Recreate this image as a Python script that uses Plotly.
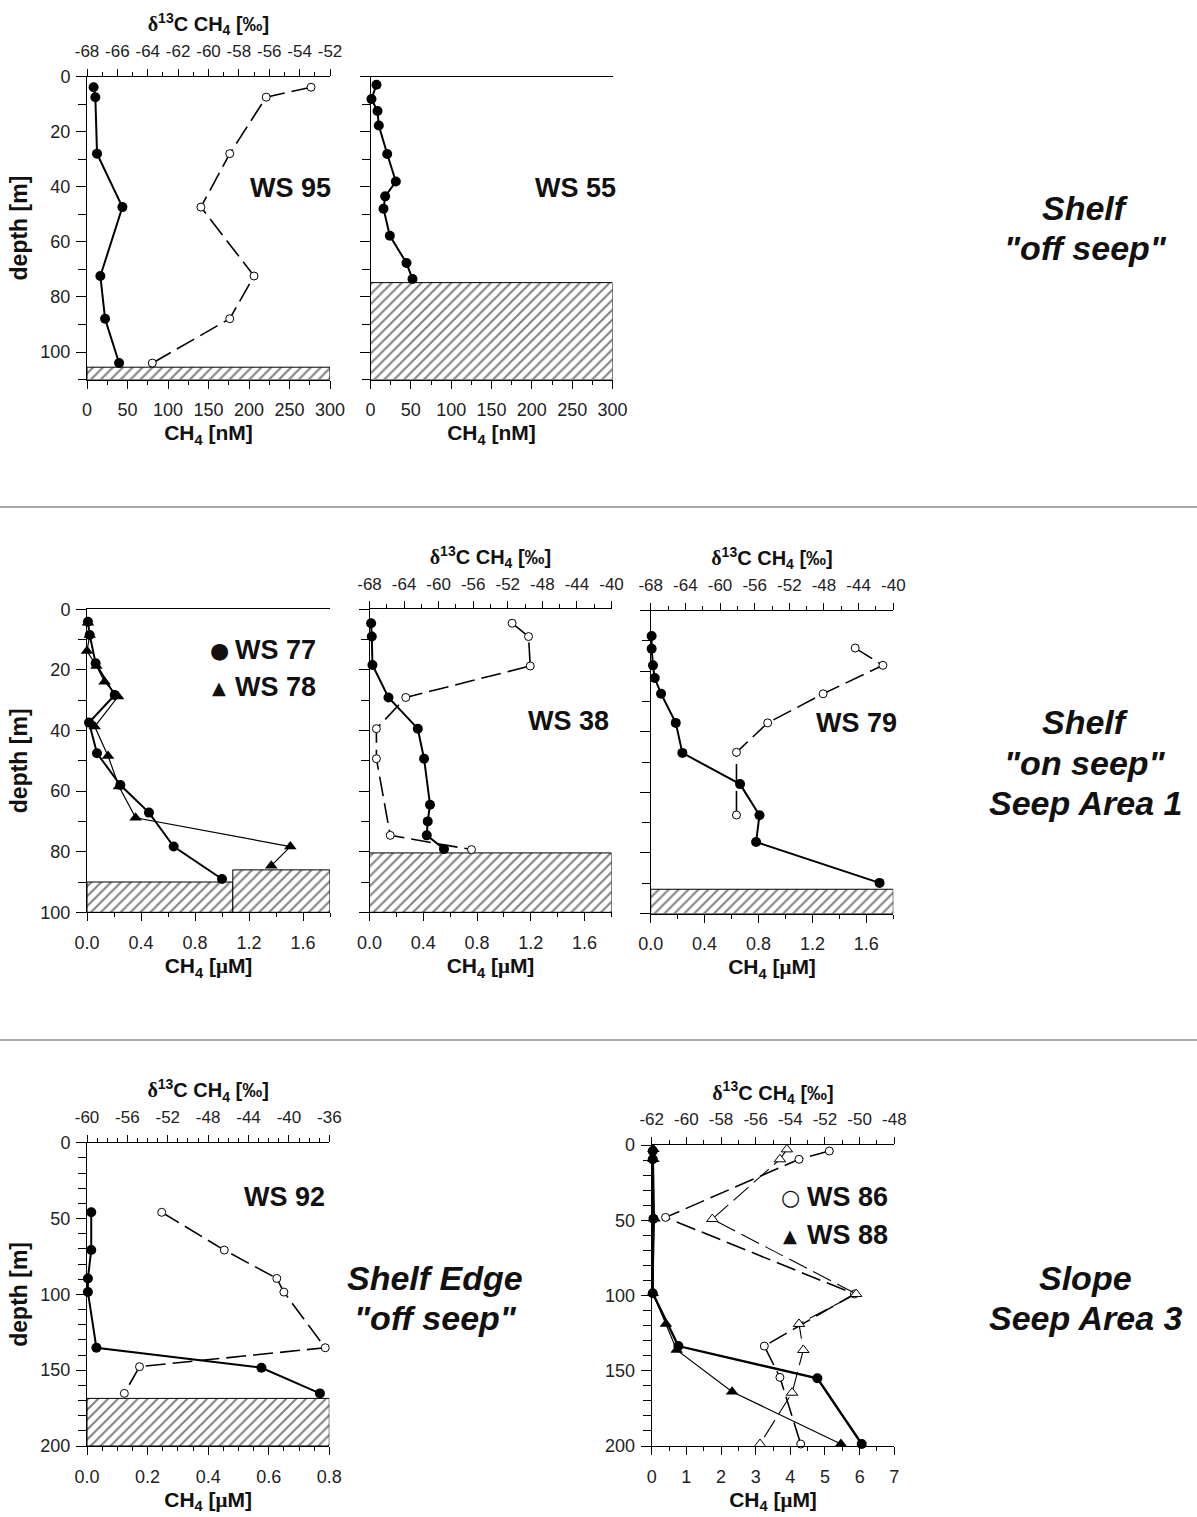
import plotly.graph_objects as go

W, H = 1197, 1517

# ---------------- data ----------------
# Shelf "off seep"
ws95_depth = [3.9, 7.5, 28.0, 47.4, 72.4, 87.9, 104.0]
ws95_ch4_nM = [8.2, 10.3, 12.4, 43.7, 16.5, 22.3, 39.6]
ws95_d13c = [-53.25, -56.2, -58.6, -60.5, -57.0, -58.6, -63.7]
ws95_seafloor = 105.5

ws55_depth = [3.0, 8.2, 12.5, 17.8, 28.1, 38.1, 43.5, 48.0, 57.8, 67.7, 73.5]
ws55_ch4_nM = [7.4, 1.2, 8.7, 10.3, 20.7, 31.4, 18.2, 16.1, 24.0, 44.6, 52.1]
ws55_seafloor = 74.8

# Shelf "on seep", Seep Area 1
ws77_depth = [4.1, 8.5, 17.8, 28.3, 37.4, 47.5, 58.0, 67.1, 78.3, 89.0]
ws77_ch4_uM = [0.007, 0.02, 0.064, 0.205, 0.015, 0.074, 0.247, 0.459, 0.642, 1.0]
ws77_seafloor = 90.0
ws78_depth = [4.4, 8.5, 13.8, 18.7, 23.9, 28.8, 38.7, 48.4, 58.5, 68.8, 78.3, 84.6]
ws78_ch4_uM = [0.007, 0.02, 0.0, 0.07, 0.13, 0.23, 0.057, 0.156, 0.237, 0.36, 1.506, 1.365]
ws78_seafloor = 86.0
ws77_78_sediment_split_uM = 1.08

ws38_depth = [4.6, 9.0, 18.4, 29.1, 39.4, 49.3, 64.5, 70.0, 74.6, 79.1]
ws38_ch4_uM = [0.012, 0.017, 0.022, 0.141, 0.359, 0.406, 0.45, 0.433, 0.426, 0.554]
ws38_d13c_depth = [4.6, 9.0, 18.7, 29.1, 39.4, 49.3, 74.6, 79.3]
ws38_d13c = [-51.5, -49.6, -49.4, -63.8, -67.2, -67.2, -65.6, -56.2]
ws38_seafloor = 80.4

ws79_depth = [8.4, 12.6, 18.1, 22.3, 27.5, 37.1, 47.0, 57.3, 67.6, 76.4, 89.9]
ws79_ch4_uM = [0.007, 0.007, 0.017, 0.03, 0.077, 0.186, 0.235, 0.663, 0.807, 0.782, 1.698]
ws79_d13c_depth = [12.4, 18.1, 27.5, 37.1, 46.8, 67.5]
ws79_d13c = [-44.4, -41.2, -48.1, -54.5, -58.1, -58.1]
ws79_seafloor = 92.0

# Shelf Edge "off seep"
ws92_depth = [45.9, 70.8, 89.5, 98.5, 135.2, 148.4, 165.3]
ws92_ch4_uM = [0.014, 0.014, 0.003, 0.003, 0.031, 0.576, 0.769]
ws92_d13c_depth = [45.9, 70.8, 89.5, 98.5, 135.2, 147.7, 165.3]
ws92_d13c = [-52.6, -46.4, -41.2, -40.5, -36.4, -54.8, -56.3]
ws92_seafloor = 168.6

# Slope, Seep Area 3
ws86_depth = [4.0, 9.5, 49.0, 98.5, 133.6, 155.0, 198.7]
ws86_ch4_uM = [0.03, 0.03, 0.05, 0.03, 0.77, 4.78, 6.06]
ws86_d13c_depth = [4.0, 9.5, 48.1, 99.0, 133.6, 154.4, 198.7]
ws86_d13c = [-51.75, -53.5, -61.2, -50.3, -55.5, -54.6, -53.4]
ws88_depth = [2.9, 9.5, 49.0, 98.5, 118.9, 136.2, 163.9, 198.7]
ws88_ch4_uM = [0.05, 0.05, 0.08, 0.03, 0.41, 0.72, 2.32, 5.46]
ws88_d13c_depth = [2.9, 9.5, 49.2, 99.0, 118.9, 136.2, 164.6, 198.7]
ws88_d13c = [-54.2, -54.6, -58.5, -50.2, -53.5, -53.25, -53.9, -55.75]

# top (delta 13C) axis tick values; labels use a plain hyphen as in the original
d13c_ticks_ws95 = [-68, -66, -64, -62, -60, -58, -56, -54, -52]
d13c_ticks_seep1 = [-68, -64, -60, -56, -52, -48, -44, -40]
d13c_ticks_ws92 = [-60, -56, -52, -48, -44, -40, -36]
d13c_ticks_slope = [-62, -60, -58, -56, -54, -52, -50, -48]

# ---------------- styling / layout ----------------
FONT = "Liberation Sans"
SERIF = "Liberation Serif"
TXT = "#111111"


def fx(px):
    return px / W


def fy(py):
    return 1 - py / H


D13C_TITLE = ("<span style=\"font-family:'%s'\">δ</span><sup>13</sup>C CH<sub>4</sub> [‰]" % SERIF)
UM_TITLE = ("CH<sub>4</sub> [<span style=\"font-family:'%s'\">μ</span>M]" % SERIF)
NM_TITLE = "CH<sub>4</sub> [nM]"

panels = [
    dict(box=(87, 330, 76.5, 379.6), xr=[0, 300], xd=50, xm=25, xf="d", yr=[110, 0], yd=20, ym=10,
         ylab=True, top=dict(r=[-68, -52], t=d13c_ticks_ws95, m=1), xt=NM_TITLE),
    dict(box=(370.5, 612.5, 76.5, 379.6), xr=[0, 300], xd=50, xm=25, xf="d", yr=[110, 0], yd=20, ym=10,
         ylab=False, top=None, xt=NM_TITLE),
    dict(box=(87, 330, 609.3, 912.3), xr=[0, 1.8], xd=0.4, xm=0.2, xf=".1f", yr=[100, 0], yd=20, ym=10,
         ylab=True, top=None, xt=UM_TITLE),
    dict(box=(369.5, 611.5, 609.3, 912.3), xr=[0, 1.8], xd=0.4, xm=0.2, xf=".1f", yr=[100, 0], yd=20, ym=10,
         ylab=False, top=dict(r=[-68, -40], t=d13c_ticks_seep1, m=2), xt=UM_TITLE),
    dict(box=(650.7, 893.3, 610.5, 913.5), xr=[0, 1.8], xd=0.4, xm=0.2, xf=".1f", yr=[100, 0], yd=20, ym=10,
         ylab=False, top=dict(r=[-68, -40], t=d13c_ticks_seep1, m=2), xt=UM_TITLE),
    dict(box=(87, 329.3, 1142.7, 1446), xr=[0, 0.8], xd=0.2, xm=0.05, xf=".1f", yr=[200, 0], yd=50, ym=10,
         ylab=True, top=dict(r=[-60, -36], t=d13c_ticks_ws92, m=1), xt=UM_TITLE),
    dict(box=(651.7, 894.3, 1145, 1446), xr=[0, 7], xd=1, xm=0.5, xf="d", yr=[200, 0], yd=50, ym=10,
         ylab=True, top=dict(r=[-62, -48], t=d13c_ticks_slope, m=1), xt=UM_TITLE),
]

layout = dict(width=W, height=H, margin=dict(l=0, r=0, t=0, b=0, autoexpand=False), paper_bgcolor="white",
              plot_bgcolor="rgba(0,0,0,0)", showlegend=False, font=dict(family=FONT, color=TXT))

TICKFONT = dict(family=FONT, size=18, color="#222")
top_ids = {}
next_top = 8
for i, p in enumerate(panels, start=1):
    x0, x1, y0, y1 = p["box"]
    xk = "xaxis" if i == 1 else "xaxis%d" % i
    yk = "yaxis" if i == 1 else "yaxis%d" % i
    layout[xk] = dict(
        domain=[fx(x0), fx(x1)], anchor="y" if i == 1 else "y%d" % i, range=p["xr"],
        dtick=p["xd"], tick0=0, tickformat=p["xf"], showline=True, linecolor="black", linewidth=1,
        mirror=(p["top"] is None), ticks="outside", ticklen=8, tickwidth=1, tickcolor="black",
        minor=dict(dtick=p["xm"], tick0=0, ticks="outside", ticklen=4, tickcolor="black", tickwidth=1),
        ticklabelstandoff=6, showgrid=False, zeroline=False, automargin=False,
        tickfont=TICKFONT,
        title=dict(text=p["xt"], standoff=6, font=dict(family=FONT, size=21, weight="bold", color=TXT)),
        fixedrange=True,
    )
    layout[yk] = dict(
        domain=[fy(y1), fy(y0)], anchor="x" if i == 1 else "x%d" % i, range=p["yr"],
        dtick=p["yd"], tick0=0, showline=True, linecolor="black", linewidth=1,
        ticks="outside", ticklen=10, tickwidth=1, tickcolor="black",
        minor=dict(dtick=p["ym"], tick0=0, ticks="outside", ticklen=8, tickcolor="black", tickwidth=1),
        showticklabels=p["ylab"], ticklabelstandoff=2, showgrid=False, zeroline=False, automargin=False,
        tickfont=TICKFONT, fixedrange=True,
    )
    if i in (1, 3, 6):
        layout[yk]["title"] = dict(text="depth [m]", standoff=6,
                                   font=dict(family=FONT, size=23, weight="bold", color=TXT))
    if p["top"] is not None:
        t = p["top"]
        k = next_top
        next_top += 1
        top_ids[i] = k
        layout["xaxis%d" % k] = dict(
            overlaying="x" if i == 1 else "x%d" % i, anchor="y" if i == 1 else "y%d" % i, side="top",
            range=t["r"], tickmode="array", tickvals=t["t"], ticktext=[str(v) for v in t["t"]],
            showline=True, linecolor="black", linewidth=1,
            ticks="outside", ticklen=7, tickwidth=1, tickcolor="black",
            minor=dict(dtick=t["m"], tick0=t["r"][0], ticks="outside", ticklen=4, tickcolor="black", tickwidth=1),
            ticklabelstandoff=5, showgrid=False, zeroline=False, automargin=False,
            tickfont=dict(family=FONT, size=17, color="#222"),
            title=dict(text=D13C_TITLE, standoff=4, font=dict(family=FONT, size=20, weight="bold", color=TXT)),
            fixedrange=True,
        )


def ax(i):
    return ("x" if i == 1 else "x%d" % i), ("y" if i == 1 else "y%d" % i)


def topax(i):
    return "x%d" % top_ids[i], ("y" if i == 1 else "y%d" % i)


traces = []
DASH = "20px,7px"


def sediment(i, xa, xb, top):
    xk, yk = ax(i)
    bottom = panels[i - 1]["yr"][0]
    traces.append(go.Scatter(
        x=[xa, xb, xb, xa, xa], y=[top, top, bottom, bottom, top], mode="lines", fill="toself",
        fillcolor="white", fillpattern=dict(shape="/", fgcolor="black", bgcolor="white", size=7, solidity=0.28),
        line=dict(color="black", width=1), xaxis=xk, yaxis=yk, hoverinfo="skip"))


def ch4_line(i, x, y, sym="circle", size=10, width=2.0):
    xk, yk = ax(i)
    traces.append(go.Scatter(
        x=x, y=y, mode="lines+markers", line=dict(color="black", width=width),
        marker=dict(symbol=sym, size=size, color="black"), xaxis=xk, yaxis=yk, cliponaxis=False))


def iso_line(i, x, y, sym="circle", size=8, width=1.6):
    xk, yk = topax(i)
    traces.append(go.Scatter(
        x=x, y=y, mode="lines+markers", line=dict(color="black", width=width, dash=DASH),
        marker=dict(symbol=sym, size=size, color="white", line=dict(color="black", width=1)),
        xaxis=xk, yaxis=yk, cliponaxis=False))


# Panel 1: WS 95
sediment(1, 0, 300, ws95_seafloor)
iso_line(1, ws95_d13c, ws95_depth)
ch4_line(1, ws95_ch4_nM, ws95_depth)
# Panel 2: WS 55
sediment(2, 0, 300, ws55_seafloor)
ch4_line(2, ws55_ch4_nM, ws55_depth)
# Panel 3: WS 77 / WS 78
sediment(3, 0, ws77_78_sediment_split_uM, ws77_seafloor)
sediment(3, ws77_78_sediment_split_uM, 1.8, ws78_seafloor)
ch4_line(3, ws78_ch4_uM, ws78_depth, sym="triangle-up", size=11, width=1.2)
ch4_line(3, ws77_ch4_uM, ws77_depth, width=2.0)
# Panel 4: WS 38
sediment(4, 0, 1.8, ws38_seafloor)
ch4_line(4, ws38_ch4_uM, ws38_depth)
iso_line(4, ws38_d13c, ws38_d13c_depth)
# Panel 5: WS 79
sediment(5, 0, 1.8, ws79_seafloor)
ch4_line(5, ws79_ch4_uM, ws79_depth)
iso_line(5, ws79_d13c, ws79_d13c_depth)
# Panel 6: WS 92
sediment(6, 0, 0.8, ws92_seafloor)
ch4_line(6, ws92_ch4_uM, ws92_depth)
iso_line(6, ws92_d13c, ws92_d13c_depth)
# Panel 7: WS 86 / WS 88
iso_line(7, ws86_d13c, ws86_d13c_depth, width=1.6)
iso_line(7, ws88_d13c, ws88_d13c_depth, sym="triangle-up", size=10, width=1.1)
ch4_line(7, ws88_ch4_uM, ws88_depth, sym="triangle-up", size=11, width=1.2)
ch4_line(7, ws86_ch4_uM, ws86_depth, width=2.4)

fig = go.Figure(data=traces, layout=layout)

# separators between the three rows
for py in (507, 1040):
    fig.add_shape(type="line", xref="paper", yref="paper", x0=0, x1=1, y0=fy(py), y1=fy(py),
                  line=dict(color="#555555", width=1.2))


def label(text, px, py, size, italic=False, xanchor="center", family=FONT):
    fig.add_annotation(text=text, x=fx(px), y=fy(py), xref="paper", yref="paper", showarrow=False,
                       xanchor=xanchor, yanchor="middle", borderpad=0,
                       font=dict(family=family, size=size, weight="bold", style="italic" if italic else "normal",
                                 color=TXT))


# station labels
label("WS 95", 290, 188, 27)
label("WS 55", 575, 188, 27)
label("WS 38", 568, 721, 27)
label("WS 79", 856, 723, 27)
label("WS 92", 284, 1197, 27)
# legends
label("●", 219, 650, 22, family="DejaVu Sans")
label("WS 77", 234, 650, 27, xanchor="left")
label("▲", 219, 687, 18, family="DejaVu Sans")
label("WS 78", 234, 687, 27, xanchor="left")
label("○", 790, 1197, 22, family="DejaVu Sans")
label("WS 86", 806, 1197, 27, xanchor="left")
label("▲", 790, 1235, 18, family="DejaVu Sans")
label("WS 88", 806, 1235, 27, xanchor="left")
# region labels
for txt, px, py in [("Shelf", 1085, 208), ("\"off seep\"", 1085, 248),
                    ("Shelf", 1085, 722), ("\"on seep\"", 1085, 763), ("Seep Area 1", 1085, 803),
                    ("Shelf Edge", 435, 1278), ("\"off seep\"", 435, 1318),
                    ("Slope", 1085, 1278), ("Seep Area 3", 1085, 1318)]:
    label(txt, px, py, 34, italic=True)

fig.write_html("out.html")
